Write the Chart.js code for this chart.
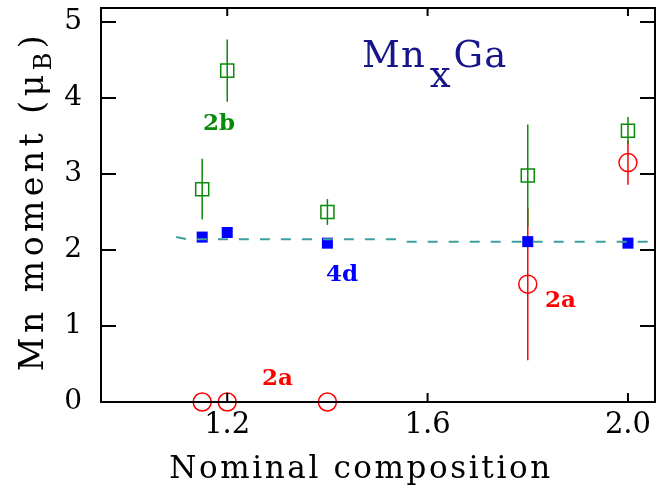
<!DOCTYPE html>
<html>
<head>
<meta charset="utf-8">
<script src="https://cdn.jsdelivr.net/npm/chart.js@4/dist/chart.umd.min.js"></script>
<style>
  html, body { margin: 0; padding: 0; background: #fff; }
  #wrap { width: 658px; height: 487px; position: relative; }
</style>
</head>
<body>
<div id="wrap"><canvas id="moment-chart"></canvas></div>
<script>
// Mn moment vs nominal composition in MnxGa
var compositions = [1.15, 1.2, 1.4, 1.8, 2.0];

var moment4d = [2.17, 2.23, 2.09, 2.11, 2.09];
var err4d = [0.06, 0.02, 0.02, 0.02, 0.04];

var moment2b = [2.80, 4.36, 2.50, 2.98, 3.57];
var err2b = [0.40, 0.41, 0.17, 0.67, 0.18];

var moment2a = [0, 0, 0, 1.55, 3.15];
var err2a = [0, 0, 0, 1.0, 0.29];

// dashed reference curve
var curveX = [1.098, 1.12, 1.538, 1.56, 2.054];
var curveY = [2.17, 2.14, 2.14, 2.11, 2.11];

var xTicks = [1.2, 1.6, 2.0];
var yTicks = [0, 1, 2, 3, 4, 5];

var GREEN = '#0a8a0a';
var BLUE = '#0000ff';
var RED = '#ff0000';
var TEAL = '#3f9f9f';
var NAVY = '#16168a';
var SERIF = '"DejaVu Serif", serif';

function pts(xs, ys) {
    return xs.map(function (x, i) { return { x: x, y: ys[i] }; });
}

var errorBars = {
    id: 'errorBars',
    beforeDatasetsDraw: function (chart) {
        var ctx = chart.ctx;
        var xs = chart.scales.x, ys = chart.scales.y;
        var sets = [
            { y: moment2a, e: err2a, c: RED },
            { y: moment2b, e: err2b, c: GREEN },
            { y: moment4d, e: err4d, c: BLUE }
        ];
        ctx.save();
        ctx.lineWidth = 1.5;
        sets.forEach(function (s) {
            ctx.strokeStyle = s.c;
            compositions.forEach(function (x, i) {
                if (!s.e[i]) return;
                var px = xs.getPixelForValue(x);
                ctx.beginPath();
                ctx.moveTo(px, ys.getPixelForValue(s.y[i] - s.e[i]));
                ctx.lineTo(px, ys.getPixelForValue(s.y[i] + s.e[i]));
                ctx.stroke();
            });
        });
        ctx.restore();
    }
};

var frame = {
    id: 'frame',
    afterDraw: function (chart) {
        var ctx = chart.ctx;
        var a = chart.chartArea;
        var xs = chart.scales.x, ys = chart.scales.y;
        ctx.save();
        ctx.strokeStyle = '#000';
        ctx.lineWidth = 2;
        ctx.strokeRect(a.left, a.top, a.right - a.left, a.bottom - a.top);
        ctx.beginPath();
        yTicks.forEach(function (v) {
            var py = ys.getPixelForValue(v);
            ctx.moveTo(a.left, py); ctx.lineTo(a.left + 15, py);
            ctx.moveTo(a.right, py); ctx.lineTo(a.right - 15, py);
        });
        xTicks.forEach(function (v) {
            var px = xs.getPixelForValue(v);
            ctx.moveTo(px, a.bottom); ctx.lineTo(px, a.bottom - 9);
            ctx.moveTo(px, a.top); ctx.lineTo(px, a.top + 8);
        });
        ctx.stroke();

        // axis titles
        ctx.fillStyle = '#000';
        ctx.textBaseline = 'alphabetic';
        ctx.font = '31px ' + SERIF;
        ctx.letterSpacing = '2.6px';
        ctx.textAlign = 'center';
        ctx.fillText('Nominal composition', 361, 478);

        ctx.save();
        ctx.translate(43, 201);
        ctx.rotate(-Math.PI / 2);
        ctx.textAlign = 'left';
        ctx.letterSpacing = '4.5px';
        var main = 'Mn moment (\u03bc';
        ctx.font = '33px ' + SERIF;
        var w1 = ctx.measureText(main).width;
        ctx.font = '24px ' + SERIF;
        var w2 = ctx.measureText('B').width;
        ctx.font = '33px ' + SERIF;
        var w3 = ctx.measureText(')').width;
        var x0 = -(w1 + w2 + w3) / 2;
        ctx.fillText(main, x0, 0);
        ctx.font = '24px ' + SERIF;
        ctx.fillText('B', x0 + w1, 8);
        ctx.font = '33px ' + SERIF;
        ctx.fillText(')', x0 + w1 + w2, 0);
        ctx.restore();

        // compound label
        ctx.letterSpacing = '1px';
        ctx.textAlign = 'left';
        ctx.fillStyle = NAVY;
        ctx.font = '37px ' + SERIF;
        ctx.fillText('Mn', 362, 67);
        var wm = ctx.measureText('Mn').width;
        ctx.fillText('x', 362 + wm + 4, 87);
        var wx = ctx.measureText('x').width;
        ctx.fillText('Ga', 362 + wm + wx + 6, 67);

        // site labels
        ctx.letterSpacing = '0px';
        ctx.font = 'bold 23px ' + SERIF;
        ctx.fillStyle = GREEN;
        ctx.fillText('2b', 203, 130);
        ctx.fillStyle = BLUE;
        ctx.fillText('4d', 326, 281);
        ctx.fillStyle = RED;
        ctx.fillText('2a', 545, 307);
        ctx.fillText('2a', 262, 385);
        ctx.restore();
    }
};

new Chart(document.getElementById('moment-chart').getContext('2d'), {
    type: 'scatter',
    data: {
        datasets: [
            {
                type: 'line',
                label: 'curve',
                data: pts(curveX, curveY),
                borderColor: TEAL,
                borderWidth: 2,
                borderDash: [10, 11],
                pointRadius: 0,
                fill: false,
                order: 0
            },
            {
                label: '4d',
                data: pts(compositions, moment4d),
                pointStyle: 'rect',
                pointRadius: 7.8,
                backgroundColor: BLUE,
                borderColor: BLUE,
                borderWidth: 0,
                order: 1
            },
            {
                label: '2b',
                data: pts(compositions, moment2b),
                pointStyle: 'rect',
                pointRadius: 9.2,
                backgroundColor: 'rgba(0,0,0,0)',
                borderColor: GREEN,
                borderWidth: 1.5,
                order: 2
            },
            {
                label: '2a',
                data: pts(compositions, moment2a),
                pointStyle: 'circle',
                pointRadius: 9,
                backgroundColor: 'rgba(0,0,0,0)',
                borderColor: RED,
                borderWidth: 1.5,
                clip: false,
                order: 3
            }
        ]
    },
    options: {
        responsive: true,
        maintainAspectRatio: false,
        animation: false,
        layout: { autoPadding: false, padding: { left: 0, top: 8, right: 3, bottom: 0 } },
        plugins: {
            legend: { display: false },
            tooltip: { enabled: false }
        },
        scales: {
            x: {
                type: 'linear',
                min: 0.948,
                max: 2.054,
                afterBuildTicks: function (s) {
                    s.ticks = xTicks.map(function (v) { return { value: v }; });
                },
                afterFit: function (s) { s.height = 85; s.paddingLeft = 0; s.paddingRight = 0; },
                grid: { display: false, drawTicks: false },
                border: { display: false },
                ticks: {
                    autoSkip: false,
                    maxRotation: 0,
                    padding: 6,
                    color: '#000',
                    font: { size: 29, family: SERIF },
                    callback: function (v) { return Number(v).toFixed(1); }
                }
            },
            y: {
                type: 'linear',
                min: 0,
                max: 5.184,
                afterBuildTicks: function (s) {
                    s.ticks = yTicks.map(function (v) { return { value: v }; });
                },
                afterFit: function (s) { s.width = 101; s.paddingTop = 0; s.paddingBottom = 0; },
                grid: { display: false, drawTicks: false },
                border: { display: false },
                ticks: {
                    padding: 19,
                    color: '#000',
                    font: { size: 28, family: SERIF },
                    callback: function (v) { return String(v); }
                }
            }
        }
    },
    plugins: [errorBars, frame]
});
</script>
</body>
</html>
